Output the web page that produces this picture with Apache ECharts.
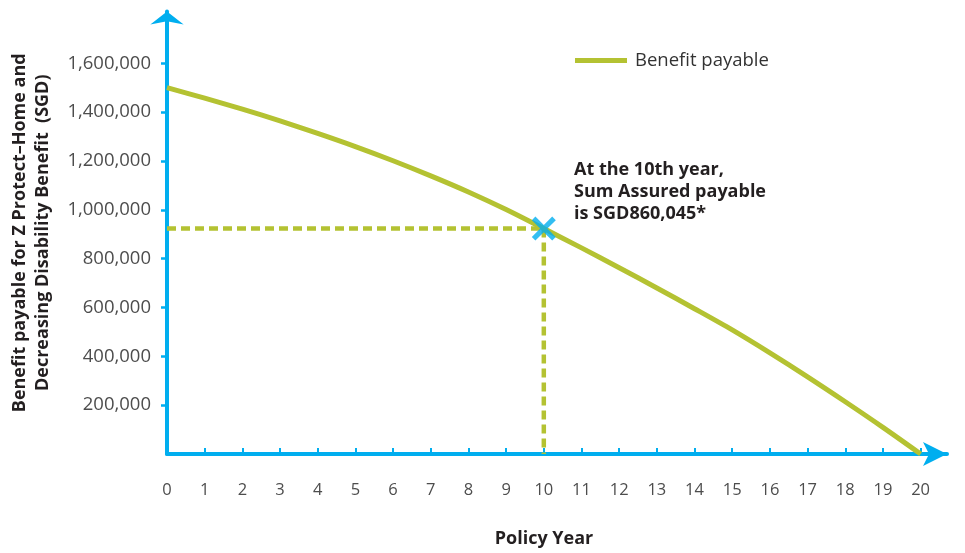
<!DOCTYPE html>
<html>
<head>
<meta charset="utf-8">
<script src="https://cdn.jsdelivr.net/npm/echarts@6/dist/echarts.min.js"></script>
<style>
  html, body { margin: 0; padding: 0; background: #ffffff; }
  #chart { width: 965px; height: 553px; }
</style>
</head>
<body>
<div id="chart"></div>
<script>
// ---- Data ----
const years = [0, 1, 2, 3, 4, 5, 6, 7, 8, 9, 10, 11, 12, 13, 14, 15, 16, 17, 18, 19, 20];
const benefitPayable = [1500000, 1457000, 1412000, 1364000, 1313000, 1259000, 1201000, 1139000, 1073000, 1001000, 923000, 844000, 763000, 680000, 595000, 508000, 414000, 316000, 214000, 109000, 0];
const xLabelValues = [0, 1, 2, 3, 4, 5, 6, 7, 8, 9, 10, 11, 12, 13, 14, 15, 16, 17, 18, 19, 20];
const xTickValues = [1, 2, 3, 4, 5, 6, 7, 8, 9, 10, 11, 12, 13, 14, 15, 16, 17, 18, 19, 20];
const yTickValues = [200000, 400000, 600000, 800000, 1000000, 1200000, 1400000, 1600000];
const markerYear = 10;
const markerValue = 923000;
const seriesName = 'Benefit payable';
const annotationLines = ['At the 10th year,', 'Sum Assured payable', 'is SGD860,045*'];
const xAxisTitle = 'Policy Year';
const yAxisTitle = 'Benefit payable for Z Protect\u2013Home and\nDecreasing Disability Benefit  (SGD)';

// ---- Styling ----
const OLIVE = '#b4c232';
const BLUE = '#00aeef';
const FONT = '"Open Sans", "Noto Sans", sans-serif';

const chart = echarts.init(document.getElementById('chart'), null, { renderer: 'canvas' });

const xyBenefit = years.map((y, i) => [y, benefitPayable[i]]);
const crossPath = 'path://M0,15 L15,0 L50,35 L85,0 L100,15 L65,50 L100,85 L85,100 L50,65 L15,100 L0,85 L35,50 Z';

chart.setOption({
  animation: false,
  backgroundColor: '#ffffff',
  textStyle: { fontFamily: FONT },
  grid: { left: 165, right: 18, top: 11.5, bottom: 98.4, containLabel: false },
  legend: {
    data: [seriesName],
    left: 575,
    top: 51,
    padding: 0,
    icon: 'rect',
    itemWidth: 52,
    itemHeight: 5,
    textStyle: { fontSize: 18.5, color: '#333333', fontFamily: FONT, padding: [0, 0, 0, 3] }
  },
  xAxis: {
    type: 'value',
    min: 0,
    max: 20.7,
    name: xAxisTitle,
    nameLocation: 'middle',
    nameGap: 76,
    nameTextStyle: { fontSize: 18, fontWeight: 'bold', color: '#231f20', fontFamily: FONT, padding: [0, 26, 0, 0] },
    axisLine: {
      show: true,
      symbol: ['none', 'arrow'],
      symbolSize: [18, 24],
      lineStyle: { color: BLUE, width: 4 }
    },
    axisTick: {
      show: true,
      inside: true,
      length: 6,
      customValues: xTickValues,
      lineStyle: { color: BLUE, width: 2 }
    },
    axisLabel: {
      customValues: xLabelValues,
      margin: 28,
      fontSize: 16.5,
      color: '#4d4d4d',
      fontFamily: FONT
    },
    splitLine: { show: false }
  },
  yAxis: {
    type: 'value',
    min: 0,
    max: 1812000,
    name: yAxisTitle,
    nameLocation: 'middle',
    nameRotate: 90,
    nameGap: 113,
    nameTextStyle: { fontSize: 18, fontWeight: 'bold', color: '#231f20', fontFamily: FONT, lineHeight: 23, align: 'center', padding: [0, 0, 0, 0] },
    axisLine: {
      show: true,
      symbol: ['none', 'arrow'],
      symbolSize: [25, 13],
      lineStyle: { color: BLUE, width: 4 }
    },
    axisTick: {
      show: true,
      inside: false,
      length: 6,
      customValues: yTickValues,
      lineStyle: { color: BLUE, width: 2.5 }
    },
    axisLabel: {
      customValues: yTickValues,
      margin: 16,
      fontSize: 18.5,
      color: '#4d4d4d',
      fontFamily: FONT,
      formatter: v => Number(v).toLocaleString('en-US')
    },
    splitLine: { show: false }
  },
  series: [
    {
      name: 'guideH',
      type: 'line',
      data: [[0, markerValue], [markerYear, markerValue]],
      symbol: 'none',
      silent: true,
      lineStyle: { color: OLIVE, width: 4.5, type: [9, 5] },
      z: 2
    },
    {
      name: 'guideV',
      type: 'line',
      data: [[markerYear, markerValue], [markerYear, 0]],
      symbol: 'none',
      silent: true,
      lineStyle: { color: OLIVE, width: 4.5, type: [9, 5] },
      z: 2
    },
    {
      name: seriesName,
      type: 'line',
      data: xyBenefit,
      smooth: 0.3,
      symbol: 'none',
      color: OLIVE,
      lineStyle: { color: OLIVE, width: 5 },
      z: 3
    },
    {
      name: 'marker',
      type: 'scatter',
      data: [[markerYear, markerValue]],
      symbol: crossPath,
      symbolSize: 24,
      itemStyle: { color: BLUE },
      z: 5
    }
  ],
  graphic: [
    {
      type: 'text',
      left: 574,
      top: 159,
      style: {
        text: annotationLines.join('\n'),
        font: 'bold 18px ' + FONT,
        lineHeight: 22,
        fill: '#231f20'
      }
    }
  ]
});
</script>
</body>
</html>
